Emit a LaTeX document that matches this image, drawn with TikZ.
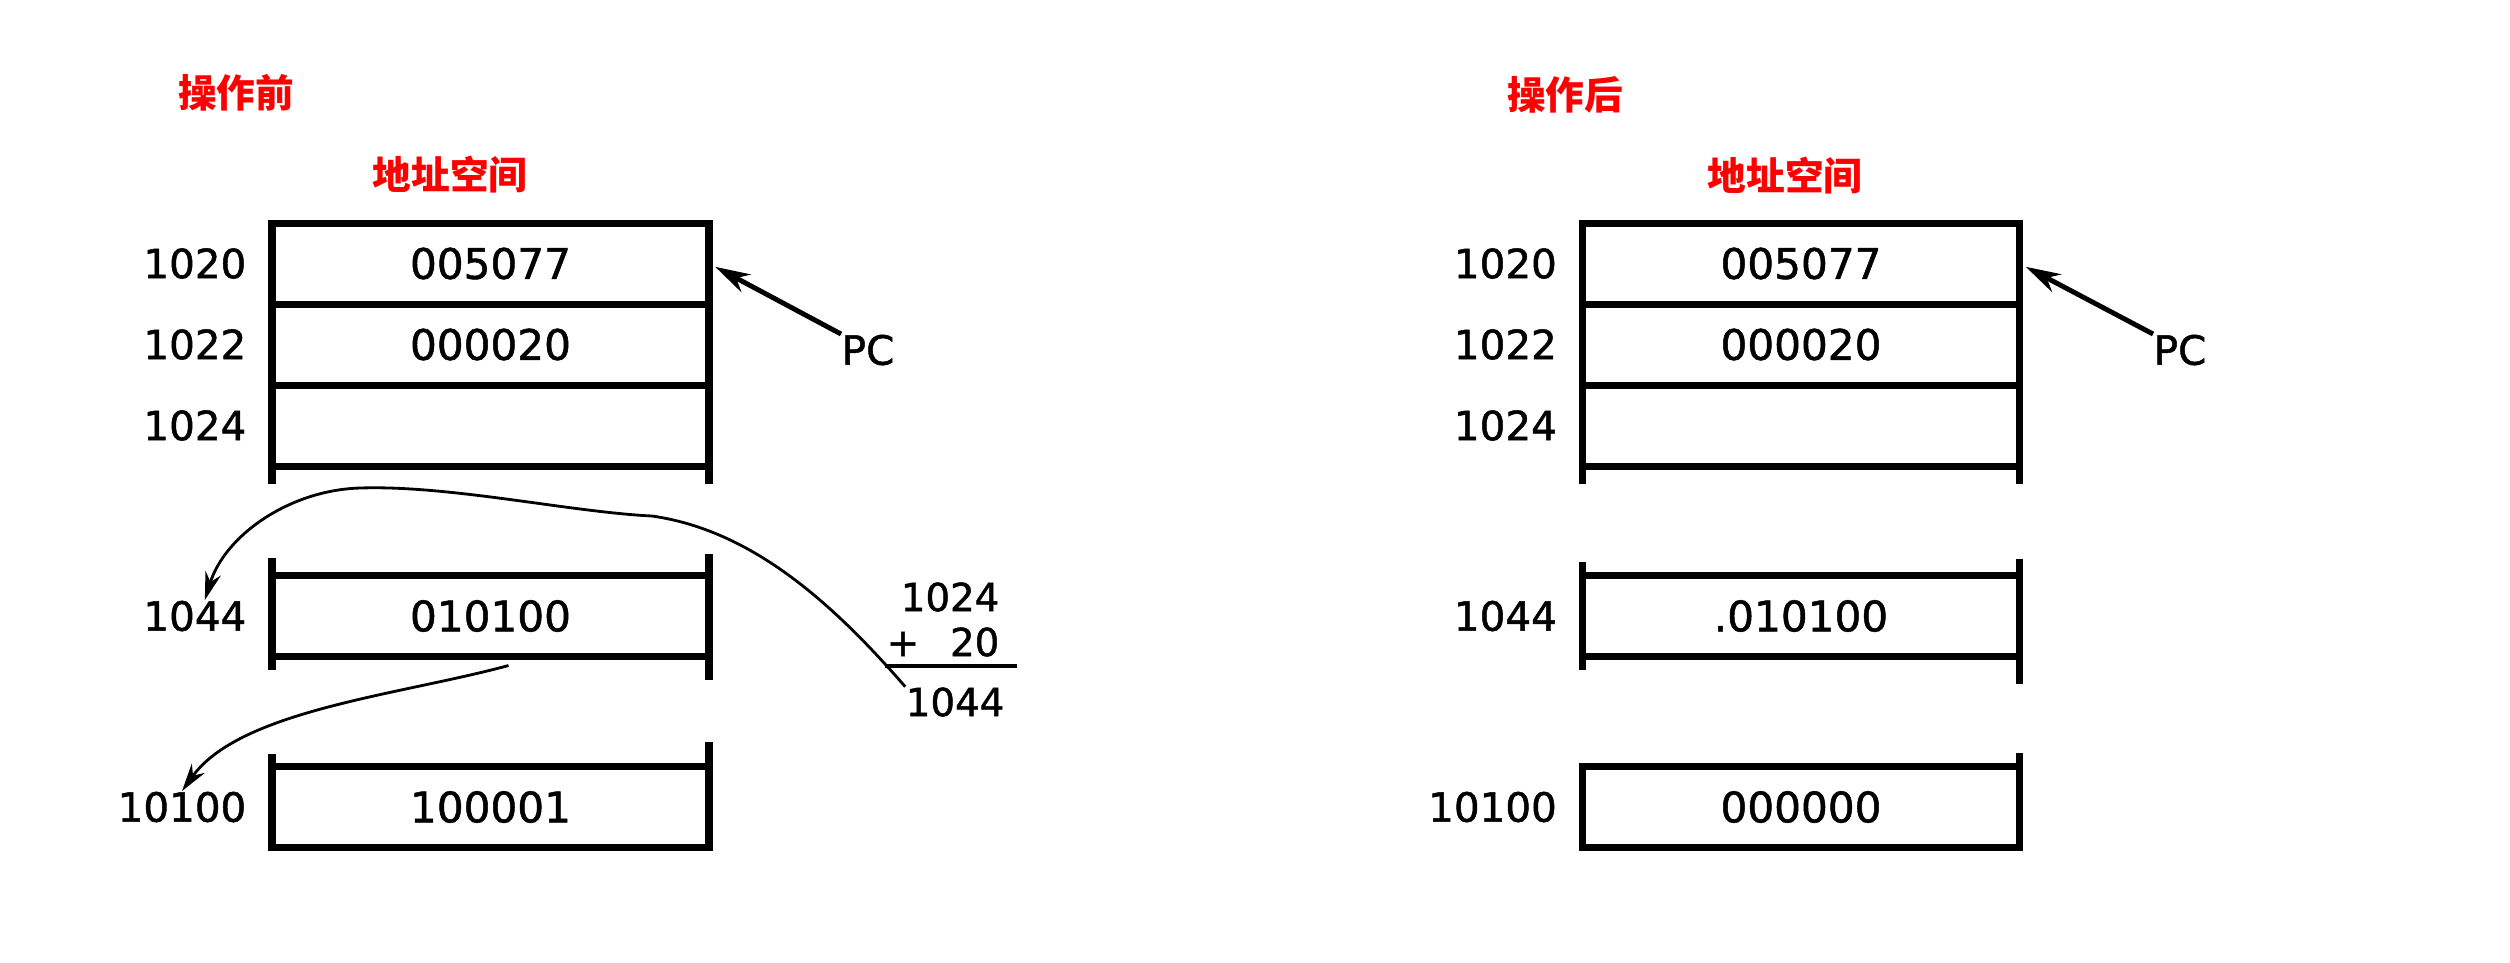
\documentclass[tikz,border=0pt]{standalone}
\usepackage{fontspec}
\newfontfamily\numfont{DejaVu Sans}[FakeBold=1.2]
\newfontfamily\cjk{Noto Sans CJK SC}
\usetikzlibrary{positioning,arrows.meta}

\begin{document}
\begin{tikzpicture}[x=0.1mm, y=-0.1mm,
  cell/.style={draw, line width=2pt, minimum width=4.37cm, minimum height=0.81cm, inner sep=0pt, outer sep=0pt, font=\numfont\fontsize{12}{14}\selectfont},
  addr/.style={inner sep=0pt, font=\numfont\fontsize{11.5}{14}\selectfont},
  calc/.style={inner sep=0pt, anchor=east, font=\numfont\fontsize{11}{13}\selectfont},
  title/.style={text=red, inner sep=0pt, font=\cjk\bfseries\fontsize{11}{13}\selectfont},
  stub/.style={line width=2pt},
  pcarrow/.style={line width=1.4pt, -{Stealth[length=3.5mm, width=2mm]}, shorten >=2pt},
  ptr/.style={line width=0.8pt, -{Stealth[length=2.8mm, width=1.6mm]}}]
\useasboundingbox (0,0) rectangle (2510,962);

% before
\node[title] (preT) at (236,93) {操作前};
\node[title] (preS) at (450,175) {地址空间};
\node[cell] (pre1020) at (490.5,263.5) {005077};
\node[cell] (pre1022) at (490.5,344.5) {000020};
\node[cell] (pre1024) at (490.5,425.5) {};
\node[cell] (pre1044) at (490.5,616) {010100};
\node[cell] (pre10100) at (490.5,807) {100001};
\node[addr, left=2.5mm of pre1020] (preA1020) {1020};
\node[addr, left=2.5mm of pre1022] (preA1022) {1022};
\node[addr, left=2.5mm of pre1024] (preA1024) {1024};
\node[addr, left=2.5mm of pre1044] (preA1044) {1044};
\node[addr, left=2.5mm of pre10100] (preA10100) {10100};
\draw[stub] (pre1024.south west) -- ++(0,18);
\draw[stub] (pre1024.south east) -- ++(0,18);
\draw[stub] (pre1044.north west) -- ++(0,-18);
\draw[stub] (pre1044.north east) -- ++(0,-22);
\draw[stub] (pre1044.south west) -- ++(0,13);
\draw[stub] (pre1044.south east) -- ++(0,23);
\draw[stub] (pre10100.north west) -- ++(0,-13);
\draw[stub] (pre10100.north east) -- ++(0,-25);
\node[addr] (prePC) at (868,350) {PC};
\draw[pcarrow] (prePC.north west) -- (pre1020.east);

% address sum
\node[calc] (sumA) at (1000,597) {1024};
\node[calc] (sumB) at (1000,642) {+\hspace{0.8em}20};
\node[calc] (sumC) at (1005,702) {1044};
\draw[line width=1.3pt] (885,666) -- (1017,666);
\draw[ptr] (sumC.north west) .. controls (830,600) and (750,530) .. (652,516)
  .. controls (570,512) and (450,485) .. (360,488)
  .. controls (290,490) and (225,535) .. ([xshift=1mm]preA1044.north);
\draw[ptr] ([shift={(18,9)}]pre1044.south) .. controls (400,695) and (240,710) .. (preA10100.north);

% after
\node[title] (postT) at (1565,95) {操作后};
\node[title] (postS) at (1785,176) {地址空间};
\node[cell] (post1020) at (1801,263.5) {005077};
\node[cell] (post1022) at (1801,344.5) {000020};
\node[cell] (post1024) at (1801,425.5) {};
\node[cell] (post1044) at (1801,616) {.010100};
\node[cell] (post10100) at (1801,807) {000000};
\node[addr, left=2.5mm of post1020] (postA1020) {1020};
\node[addr, left=2.5mm of post1022] (postA1022) {1022};
\node[addr, left=2.5mm of post1024] (postA1024) {1024};
\node[addr, left=2.5mm of post1044] (postA1044) {1044};
\node[addr, left=2.5mm of post10100] (postA10100) {10100};
\draw[stub] (post1024.south west) -- ++(0,18);
\draw[stub] (post1024.south east) -- ++(0,18);
\draw[stub] (post1044.north west) -- ++(0,-14);
\draw[stub] (post1044.north east) -- ++(0,-17);
\draw[stub] (post1044.south west) -- ++(0,13);
\draw[stub] (post1044.south east) -- ++(0,27);
\draw[stub] (post10100.north east) -- ++(0,-14);
\node[addr] (postPC) at (2180,350) {PC};
\draw[pcarrow] (postPC.north west) -- (post1020.east);

\end{tikzpicture}
\end{document}
